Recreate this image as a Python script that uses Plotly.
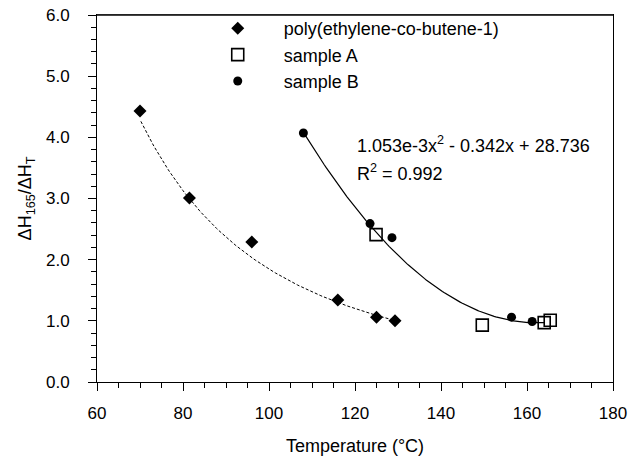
import numpy as np
import plotly.graph_objects as go

# ---- data ----
poly_T = [70.0, 81.5, 96.0, 116.0, 125.0, 129.3]
poly_R = [4.43, 3.01, 2.29, 1.34, 1.06, 1.00]

A_T = [124.9, 149.6, 164.0, 165.4]
A_R = [2.41, 0.93, 0.97, 1.01]

B_T = [108.0, 123.5, 128.6, 156.4, 161.2]
B_R = [4.07, 2.59, 2.36, 1.06, 0.99]

# trend for samples A/B as printed on the chart
fit_coef = [1.053e-3, -0.342, 28.736]
fit_range = [108.0, 164.0]

# dashed power-law trend for the copolymer
dash_A = 9.87e4
dash_B = -2.364
dash_range = [70.2, 128.5]

x_ticks = [60, 80, 100, 120, 140, 160, 180]
y_ticks = [0.0, 1.0, 2.0, 3.0, 4.0, 5.0, 6.0]

FONT = "Liberation Sans, Arial, Helvetica, sans-serif"

xp = np.linspace(dash_range[0], dash_range[1], 150)
yp = dash_A * xp ** dash_B
xs = np.linspace(fit_range[0], fit_range[1], 150)
ys = np.polyval(fit_coef, xs)

fig = go.Figure()
fig.add_trace(go.Scatter(x=xp, y=yp, mode="lines", showlegend=False,
                         line=dict(color="black", width=1, dash="3px,2px"),
                         hoverinfo="skip"))
fig.add_trace(go.Scatter(x=xs, y=ys, mode="lines", showlegend=False,
                         line=dict(color="black", width=1.2), hoverinfo="skip"))

fig.add_trace(go.Scatter(x=poly_T, y=poly_R, mode="markers",
                         name="poly(ethylene-co-butene-1)",
                         marker=dict(symbol="diamond", size=10, color="black",
                                     line=dict(width=0))))
fig.add_trace(go.Scatter(x=A_T, y=A_R, mode="markers", name="sample A",
                         marker=dict(symbol="square-open", size=12, color="black",
                                     line=dict(width=1.6))))
fig.add_trace(go.Scatter(x=B_T, y=B_R, mode="markers", name="sample B",
                         marker=dict(symbol="circle", size=9, color="black",
                                     line=dict(width=0))))

fig.add_annotation(xref="paper", yref="paper", x=0.5, y=0.6458,
                   xanchor="left", yanchor="middle", showarrow=False,
                   text="1.053e-3x<sup>2</sup> - 0.342x + 28.736",
                   font=dict(family=FONT, size=18, color="black"))
fig.add_annotation(xref="paper", yref="paper", x=0.5, y=0.572,
                   xanchor="left", yanchor="middle", showarrow=False,
                   text="R<sup>2</sup> = 0.992",
                   font=dict(family=FONT, size=18, color="black"))

# top edge of the plot frame
fig.add_shape(type="line", xref="paper", yref="paper", x0=0, x1=1, y0=0.999, y1=0.999,
              line=dict(color="#444444", width=1.5), layer="above")

axis_common = dict(showgrid=False, zeroline=False, showline=True,
                   linecolor="black", linewidth=1, mirror=True, automargin=False,
                   ticks="outside", ticklen=8, tickcolor="black", tickwidth=1,
                   ticklabeloverflow="allow",
                   tickfont=dict(family=FONT, size=17, color="black"))

fig.update_xaxes(range=[60, 180], tickvals=x_ticks,
                 minor=dict(dtick=5, ticks="outside", ticklen=5, tickcolor="black"),
                 ticklabelstandoff=8,
                 title=dict(text="Temperature (°C)", standoff=16,
                            font=dict(family=FONT, size=18, color="black")),
                 **axis_common)
fig.update_yaxes(range=[0, 6], tickvals=y_ticks, tickformat=".1f",
                 minor=dict(dtick=0.2, ticks="outside", ticklen=5, tickcolor="black"),
                 ticklabelstandoff=15,
                 title=dict(text="ΔH<sub>165</sub>/ΔH<sub>T</sub>", standoff=9,
                            font=dict(family=FONT, size=18, color="black")),
                 **axis_common)

fig.update_layout(
    width=633, height=456,
    margin=dict(l=97, r=20, t=15, b=74, autoexpand=False),
    paper_bgcolor="white", plot_bgcolor="white",
    font=dict(family=FONT, size=18, color="black"),
    legend=dict(x=0.1836, y=1.0136, xanchor="left", yanchor="top",
                bgcolor="rgba(0,0,0,0)", itemwidth=82,
                font=dict(family=FONT, size=18, color="black")),
)

# remove the default page margin so the figure fills the 633x456 window exactly
fig.write_html("out.html", config={"displayModeBar": False},
               post_script="document.body.style.margin='0px';document.body.style.overflow='hidden';")
